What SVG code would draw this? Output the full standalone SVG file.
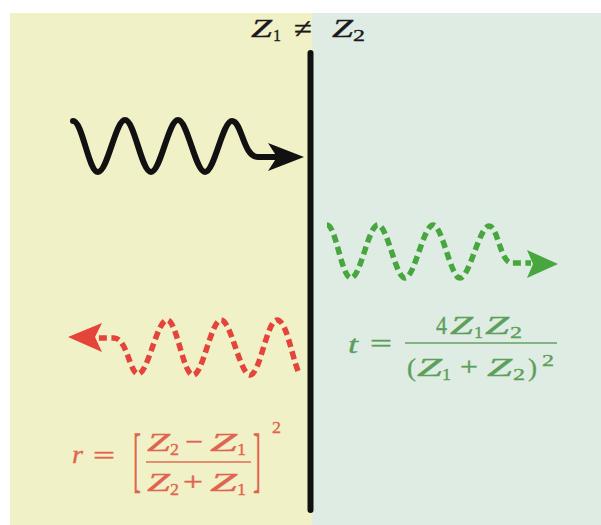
<svg xmlns="http://www.w3.org/2000/svg" width="601" height="525" viewBox="0 0 601 525">
<style>
.m{font-family:"Liberation Serif","DejaVu Serif",serif;}
.i{font-style:italic;}
.wave{fill:none;stroke-linecap:butt;stroke-linejoin:round;}
.blk{stroke:#111;stroke-width:6;stroke-linecap:round;}
.grn{stroke:#48a63e;stroke-width:5.5;stroke-dasharray:8 4.5;}
.red{stroke:#e5443a;stroke-width:5.5;stroke-dasharray:8 4.5;}
.tt{fill:#1a1a1a;stroke:#1a1a1a;stroke-width:0.35;}
.gt{fill:#5c9f5a;stroke:#5c9f5a;stroke-width:0.35;}
.rt{fill:#e0654f;stroke:#e0654f;stroke-width:0.35;}
</style>
<rect x="0" y="0" width="601" height="525" fill="#ffffff"/>
<rect x="10" y="13" width="302" height="512" fill="#f1f1c7"/>
<rect x="312" y="13" width="289" height="512" fill="#dfece3"/>

<g id="title" class="tt">
<text class="m i" x="251" y="37" font-size="25" textLength="21" lengthAdjust="spacingAndGlyphs">Z</text>
<text class="m" x="273" y="41" font-size="17" textLength="8" lengthAdjust="spacingAndGlyphs">1</text>
<text class="m" x="294" y="38" font-size="28" textLength="18" lengthAdjust="spacingAndGlyphs">≠</text>
<text class="m i" x="332" y="37" font-size="25" textLength="21" lengthAdjust="spacingAndGlyphs">Z</text>
<text class="m" x="353" y="41" font-size="17" textLength="12" lengthAdjust="spacingAndGlyphs">2</text>
</g>

<g id="interface">
<line x1="310.5" y1="53" x2="310.5" y2="510" stroke="#111" stroke-width="6" stroke-linecap="round"/>
</g>

<g id="connectors">
<g id="incident">
<path class="wave blk" d="M73,121 C82.5,121 88.5,172 98,172 C107.5,172 115.5,120 125,120 C134.5,120 141.5,172 151,172 C160.5,172 168.5,120 178,120 C187.5,120 195.5,172 205,172 C214.5,172 222.5,121 232,121 C242,121 243,157 258,157 L276,157"/>
<polygon points="304,157 268,143 277,157 268,171" fill="#111"/>
</g>
<g id="transmitted">
<path class="wave grn" d="M327,225 C336,225 341.5,278 351,278 C360.5,278 368.5,225 378,225 C387.5,225 395.5,278 405,278 C414.5,278 423.5,225 433,225 C442.5,225 450.5,278 460,278 C469.5,278 479.5,226 489,226 C498,226 500,263 512,263 L531,263"/>
<polygon points="558,264 527,250 533,264 527,278" fill="#48a63e"/>
</g>
<g id="reflected">
<path class="wave red" d="M298,371 C291,352 286,320 277,320 C267,320 260,375 250,375 C240,375 231,320 221,320 C211,320 203,375 193,375 C183,375 177,320 167,320 C157,320 148,374 138,374 C130,374 127,338 114,338 L97,338"/>
<polygon points="68,337 102,323 95,337 102,352" fill="#e5443a"/>
</g>
</g>

<g id="t-formula" class="gt">
<text class="m i" x="348" y="353" font-size="25" textLength="10" lengthAdjust="spacingAndGlyphs">t</text>
<text class="m" x="370" y="352" font-size="25" textLength="22" lengthAdjust="spacingAndGlyphs">=</text>
<rect x="405" y="342.3" width="152" height="1.4" stroke="none"/>
<text class="m" x="436" y="334" font-size="25" textLength="11" lengthAdjust="spacingAndGlyphs">4</text>
<text class="m i" x="450" y="334" font-size="25" textLength="23" lengthAdjust="spacingAndGlyphs">Z</text>
<text class="m" x="474" y="337.5" font-size="17" textLength="9" lengthAdjust="spacingAndGlyphs">1</text>
<text class="m i" x="485" y="334" font-size="25" textLength="24" lengthAdjust="spacingAndGlyphs">Z</text>
<text class="m" x="510" y="337.5" font-size="17" textLength="12" lengthAdjust="spacingAndGlyphs">2</text>
<text class="m" x="407" y="376" font-size="25" textLength="9" lengthAdjust="spacingAndGlyphs">(</text>
<text class="m i" x="417" y="376" font-size="25" textLength="25" lengthAdjust="spacingAndGlyphs">Z</text>
<text class="m" x="442" y="379.5" font-size="17" textLength="9" lengthAdjust="spacingAndGlyphs">1</text>
<text class="m" x="460" y="375" font-size="25" textLength="18" lengthAdjust="spacingAndGlyphs">+</text>
<text class="m i" x="487" y="376" font-size="25" textLength="25" lengthAdjust="spacingAndGlyphs">Z</text>
<text class="m" x="513" y="379.5" font-size="17" textLength="12" lengthAdjust="spacingAndGlyphs">2</text>
<text class="m" x="528" y="376" font-size="25" textLength="9" lengthAdjust="spacingAndGlyphs">)</text>
<text class="m" x="542" y="366" font-size="17" textLength="12" lengthAdjust="spacingAndGlyphs">2</text>
</g>

<g id="r-formula" class="rt">
<text class="m i" x="72" y="463" font-size="25" textLength="11" lengthAdjust="spacingAndGlyphs">r</text>
<text class="m" x="93" y="464" font-size="25" textLength="22" lengthAdjust="spacingAndGlyphs">=</text>
<text class="m" transform="translate(133,482.5) scale(0.33,1)" font-size="72">[</text>
<text class="m i" x="147" y="451" font-size="25" textLength="23" lengthAdjust="spacingAndGlyphs">Z</text>
<text class="m" x="170" y="454.5" font-size="17" textLength="9" lengthAdjust="spacingAndGlyphs">2</text>
<text class="m" x="185" y="450" font-size="25" textLength="18" lengthAdjust="spacingAndGlyphs">−</text>
<text class="m i" x="210" y="451" font-size="25" textLength="27" lengthAdjust="spacingAndGlyphs">Z</text>
<text class="m" x="237" y="454.5" font-size="17" textLength="9" lengthAdjust="spacingAndGlyphs">1</text>
<rect x="146" y="461.3" width="105" height="1.4" stroke="none"/>
<text class="m i" x="147" y="491" font-size="25" textLength="23" lengthAdjust="spacingAndGlyphs">Z</text>
<text class="m" x="170" y="494.5" font-size="17" textLength="9" lengthAdjust="spacingAndGlyphs">2</text>
<text class="m" x="183" y="490" font-size="25" textLength="20" lengthAdjust="spacingAndGlyphs">+</text>
<text class="m i" x="210" y="491" font-size="25" textLength="27" lengthAdjust="spacingAndGlyphs">Z</text>
<text class="m" x="237" y="494.5" font-size="17" textLength="9" lengthAdjust="spacingAndGlyphs">1</text>
<text class="m" transform="translate(253,482.5) scale(0.33,1)" font-size="72">]</text>
<text class="m" x="272" y="433" font-size="17" textLength="9" lengthAdjust="spacingAndGlyphs">2</text>
</g>
</svg>
